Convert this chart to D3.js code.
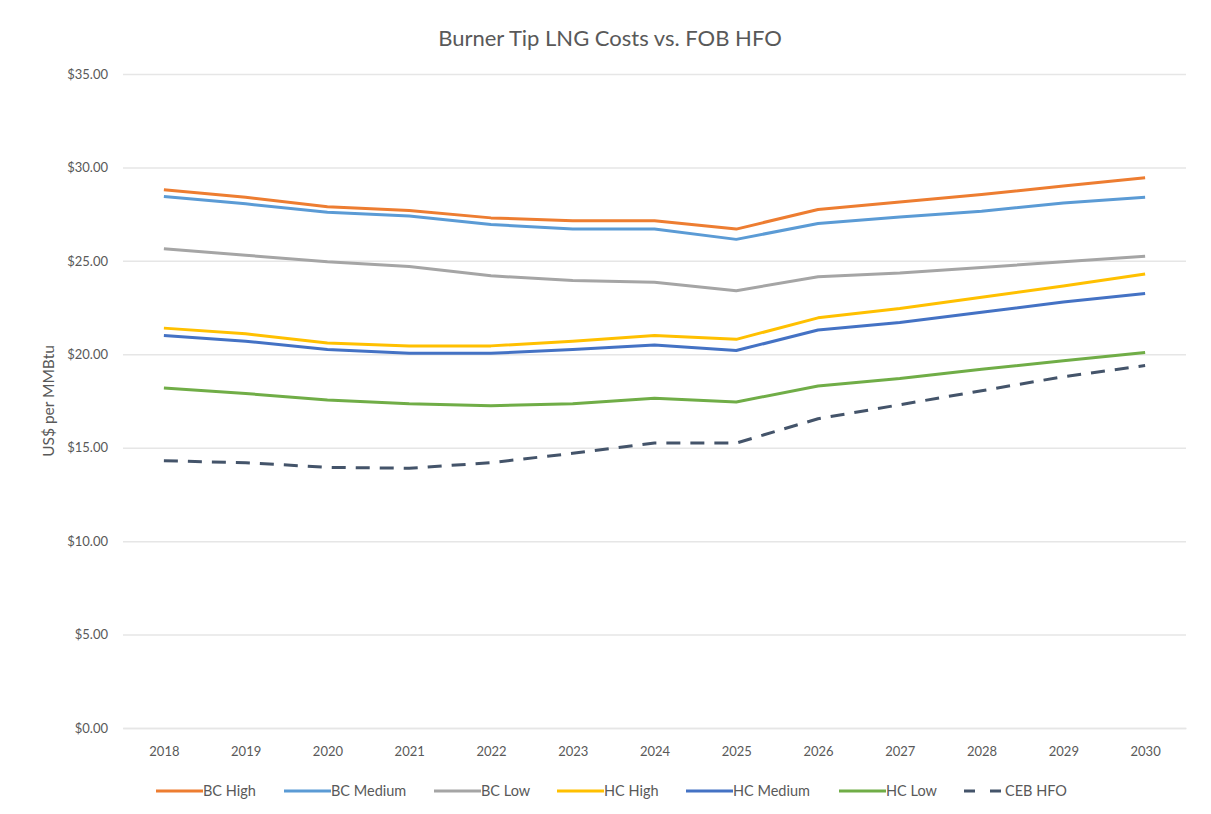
<!DOCTYPE html>
<html>
<head>
<meta charset="utf-8">
<script src="https://cdn.jsdelivr.net/npm/d3@7"></script>
<style>
  html, body { margin: 0; padding: 0; background: #ffffff; }
  svg { display: block; font-family: Lato, "Open Sans", sans-serif; }
</style>
</head>
<body>
<svg id="chart" width="1211" height="814"></svg>
<script>
// Years on the category axis
const years = ["2018","2019","2020","2021","2022","2023","2024","2025","2026","2027","2028","2029","2030"];

// Series values, US$ per MMBtu
const bcHigh   = [28.8, 28.4, 27.9, 27.7, 27.3, 27.15, 27.15, 26.7, 27.75, 28.15, 28.55, 29.0, 29.45];
const bcMedium = [28.45, 28.05, 27.6, 27.4, 26.95, 26.7, 26.7, 26.15, 27.0, 27.35, 27.65, 28.1, 28.4];
const bcLow    = [25.65, 25.3, 24.95, 24.7, 24.2, 23.95, 23.85, 23.4, 24.15, 24.35, 24.65, 24.95, 25.25];
const hcHigh   = [21.4, 21.1, 20.6, 20.45, 20.45, 20.7, 21.0, 20.8, 21.95, 22.45, 23.05, 23.65, 24.3];
const hcMedium = [21.0, 20.7, 20.25, 20.05, 20.05, 20.25, 20.5, 20.2, 21.3, 21.7, 22.25, 22.8, 23.25];
const hcLow    = [18.2, 17.9, 17.55, 17.35, 17.25, 17.35, 17.65, 17.45, 18.3, 18.7, 19.2, 19.65, 20.1];
const cebHfo   = [14.3, 14.2, 13.95, 13.9, 14.2, 14.7, 15.25, 15.25, 16.55, 17.3, 18.05, 18.8, 19.4];

// Tick values for the value axis
const yTicks = [0, 5, 10, 15, 20, 25, 30, 35];

const seriesNames  = ["BC High", "BC Medium", "BC Low", "HC High", "HC Medium", "HC Low", "CEB HFO"];
const seriesValues = [bcHigh, bcMedium, bcLow, hcHigh, hcMedium, hcLow, cebHfo];
const seriesColors = ["#ED7D31", "#5B9BD5", "#A5A5A5", "#FFC000", "#4472C4", "#70AD47", "#44546A"];
const seriesDashed = [false, false, false, false, false, false, true];

const svg = d3.select("#chart");

const plot = { left: 123, right: 1186, top: 74, bottom: 728 };

const x = d3.scalePoint().domain(years).range([plot.left, plot.right]).padding(0.5);
const y = d3.scaleLinear().domain([0, 35]).range([plot.bottom, plot.top]);

// Title
svg.append("text")
  .attr("x", 610).attr("y", 46)
  .attr("text-anchor", "middle")
  .attr("fill", "#595959")
  .attr("font-size", 22)
  .text("Burner Tip LNG Costs vs. FOB HFO");

// Horizontal gridlines + value labels
const yAxis = d3.axisLeft(y)
  .tickValues(yTicks)
  .tickSize(-(plot.right - plot.left))
  .tickPadding(15)
  .tickFormat(d => "$" + d3.format(".2f")(d));

const gy = svg.append("g")
  .attr("transform", `translate(${plot.left},0)`)
  .call(yAxis);
gy.select(".domain").remove();
gy.selectAll(".tick line").attr("stroke", "#e6e6e6").attr("stroke-width", 1.5);
gy.selectAll(".tick text").attr("fill", "#595959").attr("font-size", 13).attr("font-family", "Lato, sans-serif");

// Category labels
const xAxis = d3.axisBottom(x).tickSize(0).tickPadding(19);
const gx = svg.append("g")
  .attr("transform", `translate(0,${plot.bottom})`)
  .call(xAxis);
gx.select(".domain").attr("stroke", "#e6e6e6").attr("stroke-width", 1.5);
gx.selectAll(".tick text").attr("fill", "#595959").attr("font-size", 13).attr("font-family", "Lato, sans-serif");

// Axis title
svg.append("text")
  .attr("transform", "translate(54,401) rotate(-90)")
  .attr("text-anchor", "middle")
  .attr("fill", "#595959")
  .attr("font-size", 15.5)
  .text("US$ per MMBtu");

// Series lines
const line = d3.line()
  .x((d, i) => x(years[i]))
  .y(d => y(d));

seriesValues.forEach((vals, k) => {
  svg.append("path")
    .datum(vals)
    .attr("fill", "none")
    .attr("stroke", seriesColors[k])
    .attr("stroke-width", 3)
    .attr("stroke-linejoin", "round")
    .attr("stroke-dasharray", seriesDashed[k] ? "14,10" : null)
    .attr("d", line);
});

// Legend
const legendX = [156, 284, 434, 557, 686, 839, 964];
const legendY = 791;
const lg = svg.append("g");
seriesNames.forEach((name, k) => {
  const g = lg.append("g").attr("transform", `translate(${legendX[k]},${legendY})`);
  g.append("line")
    .attr("x1", 0).attr("x2", seriesDashed[k] ? 37 : 47)
    .attr("y1", 0).attr("y2", 0)
    .attr("stroke", seriesColors[k])
    .attr("stroke-width", 3)
    .attr("stroke-dasharray", seriesDashed[k] ? "11,15" : null);
  g.append("text")
    .attr("x", seriesDashed[k] ? 41 : 47).attr("y", 5)
    .attr("fill", "#595959")
    .attr("font-size", 14.5)
    .text(name);
});
</script>
</body>
</html>
